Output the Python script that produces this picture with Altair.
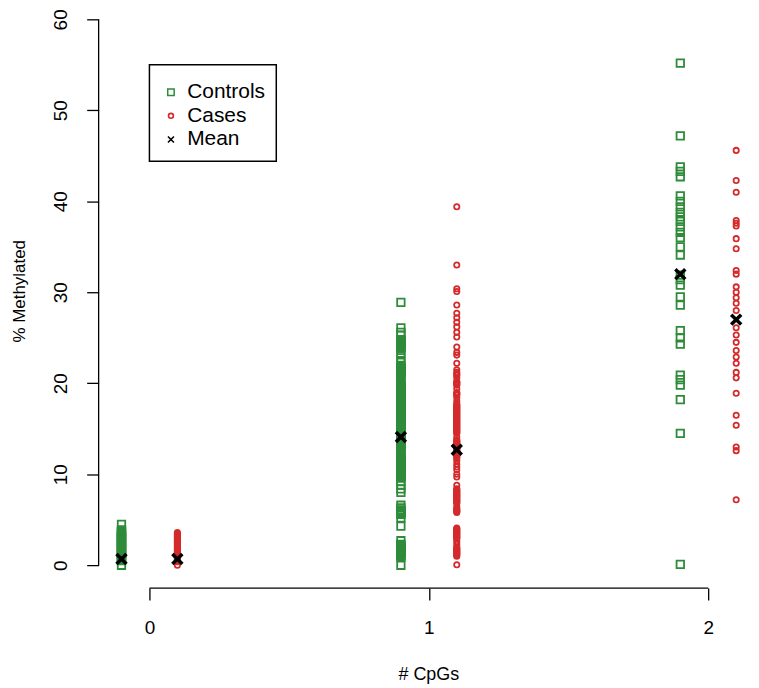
import altair as alt
import pandas as pd

# ---------------- data ----------------
ctrl_0 = [4.5, 3.9, 3.7, 3.5, 3.3, 3.1, 2.9, 2.7, 2.5, 2.3, 2.1, 1.9, 1.7, 1.5,
          1.3, 1.1, 0.9, 0.7, 0.5, 0.0]
ctrl_0_dense = [3.8, 3.6, 3.4, 3.2, 3.0, 2.8, 2.6, 2.4, 2.2, 2.0, 1.8, 1.6, 1.4,
                1.2, 1.0, 0.8, 0.6]
case_0 = [3.6, 3.4, 3.2, 3.0, 2.8, 2.6, 2.4, 2.2, 2.0, 1.8, 1.6, 1.4, 1.2, 1.0,
          0.8, 0.6, 0.4, 0.0]
case_0_dense = [3.5, 3.3, 3.1, 2.9, 2.7, 2.5, 2.3, 2.1, 1.9, 1.7, 1.5, 1.3, 1.1,
                0.9, 0.7, 0.5]
ctrl_1 = [28.9,
          26.1, 25.6, 25.3, 24.8, 24.6, 24.4, 24.2, 24.0, 23.8, 23.3, 22.8, 22.3,
          21.9, 21.7, 21.5, 21.3, 21.1, 20.9, 20.4, 20.0, 19.8, 19.6, 19.4, 19.2,
          19.0, 18.8, 18.6, 18.4, 18.2, 18.0, 17.8, 17.6, 17.4, 17.2, 17.0, 16.8,
          16.6, 16.4, 16.2, 16.0, 15.8, 15.6, 15.4, 15.2, 15.0, 14.8, 14.6, 14.4,
          14.2, 14.0, 13.8, 13.6, 13.4, 13.2, 13.0, 12.8, 12.3, 12.0, 11.8, 11.6,
          11.4, 11.2, 11.0, 10.8, 10.6, 10.4, 10.2, 10.0, 9.8, 9.6, 9.2, 8.8,
          8.4, 8.0,
          6.6, 6.3, 6.0, 5.8, 5.6, 5.2, 4.3,
          2.7, 2.3, 2.1, 1.9, 1.7, 1.5, 1.3, 1.1, 0.9, 0.0]
ctrl_1_dense = [24.7, 24.5, 24.3, 24.1, 23.9,
                21.8, 21.6, 21.4, 21.2, 21.0,
                19.9, 19.7, 19.5, 19.3, 19.1, 18.9, 18.7, 18.5, 18.3, 18.1, 17.9,
                17.7, 17.5, 17.3, 17.1, 16.9, 16.7, 16.5, 16.3, 16.1, 15.9, 15.7,
                15.5, 15.3, 15.1, 14.9, 14.7, 14.5, 14.3, 14.1, 13.9, 13.7, 13.5,
                13.3, 13.1, 12.9,
                11.9, 11.7, 11.5, 11.3, 11.1, 10.9, 10.7, 10.5, 10.3, 10.1, 9.9,
                9.7,
                6.1, 5.9, 5.7,
                2.2, 2.0, 1.8, 1.6, 1.4, 1.2, 1.0]
case_1 = [39.4, 33.0, 30.4, 30.1, 28.6, 27.7, 27.2, 26.7, 26.2, 25.6, 25.1, 24.0,
          23.4, 23.1, 22.2, 21.5,
          21.2, 21.0, 20.6, 20.2, 20.0, 19.8, 19.4, 19.0, 18.8, 18.4, 18.0, 17.7,
          17.5, 17.3, 17.1, 16.9, 16.7, 16.5, 16.3, 16.1, 15.9, 15.7, 15.5, 15.3,
          15.1, 14.9, 14.7, 14.5, 14.1, 13.8, 13.6, 13.4, 13.2, 13.0, 12.8, 12.6,
          12.4, 12.2, 12.0, 11.8, 11.5, 11.1, 10.8, 10.5, 10.0, 9.7,
          8.8, 8.4, 8.2, 8.0, 7.8, 7.6, 7.4, 7.2, 7.0, 6.8, 6.4, 6.2, 6.0, 5.8,
          4.1, 3.9, 3.7, 3.5, 3.3, 3.1, 2.9, 2.6, 2.3, 2.0, 1.8, 1.6, 1.4, 1.2,
          1.0,
          0.05]
case_1_dense = [20.9, 20.1, 19.9, 18.9, 18.7,
                17.6, 17.4, 17.2, 17.0, 16.8, 16.6, 16.4, 16.2, 16.0, 15.8, 15.6,
                15.4, 15.2, 15.0, 14.8, 14.6,
                13.7, 13.5, 13.3, 13.1, 12.9, 12.7, 12.5, 12.3, 12.1, 11.9,
                8.3, 8.1, 7.9, 7.7, 7.5, 7.3, 7.1, 6.9, 6.1, 5.9,
                4.0, 3.8, 3.6, 3.4, 3.2, 3.0, 1.9, 1.7, 1.5, 1.3, 1.1]
ctrl_2 = [55.2, 47.2, 43.8, 43.3, 42.7, 40.6, 40.0, 39.4, 38.8, 38.3, 37.8, 37.2,
          36.6, 36.0, 35.0, 34.1, 31.9, 31.4, 30.8, 29.5, 28.6, 25.8, 25.0, 24.3,
          20.9, 20.4, 19.8, 18.2, 14.5, 0.1]
case_2 = [45.6, 42.3, 41.0, 37.9, 37.6, 37.3, 35.9, 34.8, 32.4, 32.0, 30.6, 30.0,
          29.4, 28.8, 28.0, 26.1, 25.3, 24.5, 23.6, 22.9, 22.2, 21.2, 20.6, 18.9,
          16.5, 15.4, 13.0, 12.6, 7.2]

ctrl_x = [-0.1, 0.9, 1.9]
case_x = [0.1, 1.1, 2.1]

mean_x = [-0.1, 0.1, 0.9, 1.1, 1.9, 2.1]
mean_y = [0.7, 0.7, 14.1, 12.7, 32.0, 27.0]

x_ticks = [0, 1, 2]
y_ticks = [0, 10, 20, 30, 40, 50, 60]

legend_labels = ["Controls", "Cases", "Mean"]
legend_y = [52.0, 49.4, 46.8]
legend_box = {"x": 0.0, "x2": 0.454, "y": 55.0, "y2": 44.4}
legend_sym_x = 0.077
legend_txt_x = 0.135

# ---------------- tables ----------------
ctrl_groups = [ctrl_0 + ctrl_0_dense, ctrl_1 + ctrl_1_dense, ctrl_2]
case_groups = [case_0 + case_0_dense, case_1 + case_1_dense, case_2]
ctrl_df = pd.DataFrame([{"x": x, "y": v} for x, vals in zip(ctrl_x, ctrl_groups) for v in vals])
case_df = pd.DataFrame([{"x": x, "y": v} for x, vals in zip(case_x, case_groups) for v in vals])
mean_df = pd.DataFrame({"x": mean_x, "y": mean_y})
leg_df = pd.DataFrame({"label": legend_labels, "y": legend_y,
                       "sx": [legend_sym_x] * 3, "tx": [legend_txt_x] * 3})

W, H = 655, 581
FONT = "Liberation Sans"
GREEN = "#2E8B3A"
RED = "#D42A2C"
XPATH = "M-1,-1L1,1M-1,1L1,-1"

xs = alt.Scale(domain=[-0.1818, 2.153], nice=False, zero=False)
ys = alt.Scale(domain=[-2.5, 61.1], nice=False, zero=False)

x_axis = alt.Axis(values=x_ticks, domain=False, grid=False, tickSize=12,
                  tickColor="black", tickWidth=1.3, labelFont=FONT,
                  labelFontSize=19, labelColor="black", labelPadding=19,
                  title="# CpGs", titleFont=FONT, titleFontSize=18,
                  titleFontWeight="normal", titleColor="black",
                  titleX=331, titleY=87, titleBaseline="middle",
                  titleAnchor="middle", format="d")
y_axis = alt.Axis(values=y_ticks, domain=False, grid=False, tickSize=12,
                  tickColor="black", tickWidth=1.3, labelFont=FONT,
                  labelFontSize=19, labelColor="black", labelAngle=270,
                  labelAlign="center", labelBaseline="bottom", labelPadding=16,
                  title="% Methylated", titleFont=FONT, titleFontSize=17,
                  titleFontWeight="normal", titleColor="black",
                  titleAngle=270, titleX=-79, titleY=H / 2 - 8,
                  titleAlign="center", titleBaseline="middle", format="d")

ctrl = alt.Chart(ctrl_df).mark_point(shape="square", filled=False, size=56,
                                     strokeWidth=1.8, color=GREEN, opacity=1).encode(
    x=alt.X("x:Q", scale=xs, axis=x_axis),
    y=alt.Y("y:Q", scale=ys, axis=y_axis),
)
case = alt.Chart(case_df).mark_point(shape="circle", filled=False, size=28,
                                     strokeWidth=1.8, color=RED, opacity=1).encode(
    x=alt.X("x:Q", scale=xs, axis=x_axis),
    y=alt.Y("y:Q", scale=ys, axis=y_axis),
)
means = alt.Chart(mean_df).mark_point(shape=XPATH, filled=False, size=100,
                                      strokeWidth=3.5, color="black", opacity=1).encode(
    x=alt.X("x:Q", scale=xs),
    y=alt.Y("y:Q", scale=ys),
)

# R-style axis lines spanning only the ticks
yline = alt.Chart(pd.DataFrame({"y": [y_ticks[0]], "y2": [y_ticks[-1]]})).mark_rule(
    color="black", strokeWidth=1.3).encode(
    x=alt.value(0), y=alt.Y("y:Q", scale=ys), y2="y2:Q")
xline = alt.Chart(pd.DataFrame({"x": [x_ticks[0]], "x2": [x_ticks[-1]]})).mark_rule(
    color="black", strokeWidth=1.3).encode(
    y=alt.value(H), x=alt.X("x:Q", scale=xs), x2="x2:Q")

# legend box
box = alt.Chart(pd.DataFrame([legend_box])).mark_rect(
    fill="white", stroke="black", strokeWidth=1.5).encode(
    x=alt.X("x:Q", scale=xs), x2="x2:Q", y=alt.Y("y:Q", scale=ys), y2="y2:Q")
leg_sq = alt.Chart(leg_df.iloc[[0]]).mark_point(shape="square", filled=False, size=42,
                                               strokeWidth=1.5, color=GREEN, opacity=1).encode(
    x=alt.X("sx:Q", scale=xs), y=alt.Y("y:Q", scale=ys))
leg_ci = alt.Chart(leg_df.iloc[[1]]).mark_point(shape="circle", filled=False, size=24,
                                               strokeWidth=1.6, color=RED, opacity=1).encode(
    x=alt.X("sx:Q", scale=xs), y=alt.Y("y:Q", scale=ys))
leg_x = alt.Chart(leg_df.iloc[[2]]).mark_point(shape=XPATH, filled=False, size=36,
                                              strokeWidth=1.6, color="black", opacity=1).encode(
    x=alt.X("sx:Q", scale=xs), y=alt.Y("y:Q", scale=ys))
leg_txt = alt.Chart(leg_df).mark_text(align="left", baseline="middle", font=FONT,
                                      fontSize=21, color="black").encode(
    x=alt.X("tx:Q", scale=xs), y=alt.Y("y:Q", scale=ys), text="label:N")

chart = alt.layer(
    ctrl, case, means, yline, xline, box, leg_sq, leg_ci, leg_x, leg_txt
).properties(
    width=W, height=H,
    autosize=alt.AutoSizeParams(type="none"),
    padding={"left": 91, "top": 0, "right": 0, "bottom": 99},
    background="white",
).configure_view(stroke=None)

chart.save("out.html", embed_options={"renderer": "svg", "actions": False})
